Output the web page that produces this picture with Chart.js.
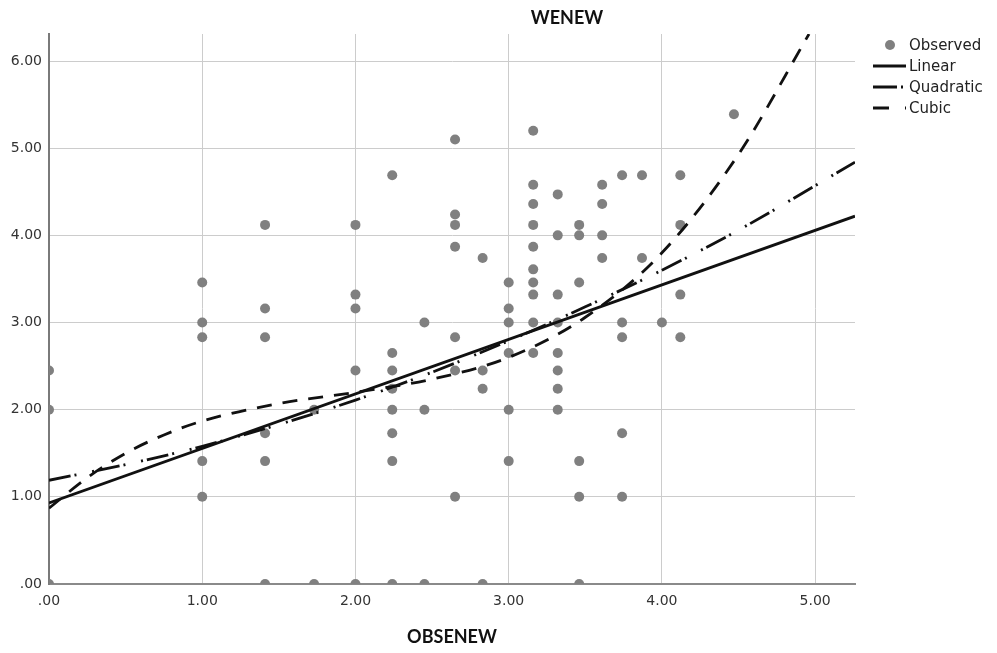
<!DOCTYPE html>
<html lang="en">
<head>
  <meta charset="UTF-8">
  <title>WENEW</title>
  <script src="https://cdn.jsdelivr.net/npm/chart.js"></script>
  <style>
    html, body { margin: 0; padding: 0; background: #fff; }
    #wrap { width: 997px; height: 653px; }
  </style>
</head>
<body>
<div id="wrap"><canvas id="curveChart"></canvas></div>

<script>
// observed points (sqrt scaled values)
const obsX = [
  0, 0, 0,
  1, 1, 1, 1, 1,
  1.41, 1.41, 1.41, 1.41, 1.41, 1.41,
  1.73, 1.73,
  2, 2, 2, 2, 2,
  2.24, 2.24, 2.24, 2.24, 2.24, 2.24, 2.24, 2.24,
  2.45, 2.45, 2.45,
  2.65, 2.65, 2.65, 2.65, 2.65, 2.65, 2.65,
  2.83, 2.83, 2.83, 2.83,
  3, 3, 3, 3, 3, 3,
  3.16, 3.16, 3.16, 3.16, 3.16, 3.16, 3.16, 3.16, 3.16, 3.16,
  3.32, 3.32, 3.32, 3.32, 3.32, 3.32, 3.32, 3.32,
  3.46, 3.46, 3.46, 3.46, 3.46, 3.46,
  3.61, 3.61, 3.61, 3.61,
  3.74, 3.74, 3.74, 3.74, 3.74,
  3.87, 3.87,
  4,
  4.12, 4.12, 4.12, 4.12,
  4.47
];
const obsY = [
  2.45, 2, 0,
  3.46, 3, 2.83, 1.41, 1,
  4.12, 3.16, 2.83, 1.73, 1.41, 0,
  2, 0,
  4.12, 3.32, 3.16, 2.45, 0,
  4.69, 2.65, 2.45, 2.24, 2, 1.73, 1.41, 0,
  3, 2, 0,
  5.1, 4.24, 4.12, 3.87, 2.83, 2.45, 1,
  3.74, 2.45, 2.24, 0,
  3.46, 3.16, 3, 2.65, 2, 1.41,
  5.2, 4.58, 4.36, 4.12, 3.87, 3.61, 3.46, 3.32, 3, 2.65,
  4.47, 4, 3.32, 3, 2.65, 2.45, 2.24, 2,
  4.12, 4, 3.46, 1.41, 1, 0,
  4.58, 4.36, 4, 3.74,
  4.69, 3, 2.83, 1.73, 1,
  4.69, 3.74,
  3,
  4.69, 4.12, 3.32, 2.83,
  5.39
];

// fitted curves, read at a few x positions
const linearX = [0, 5.26];
const linearY = [0.93, 4.22];
const quadX = [0, 0.5, 1, 1.5, 2, 2.5, 3, 3.5, 4, 4.5, 5.26];
const quadY = [1.19, 1.37, 1.58, 1.83, 2.11, 2.43, 2.79, 3.18, 3.6, 4.06, 4.84];
const cubicX = [0, 0.25, 0.5, 0.75, 1, 1.5, 2, 2.5, 3, 3.5, 4, 4.5, 4.96];
const cubicY = [0.87, 1.22, 1.5, 1.71, 1.87, 2.07, 2.2, 2.35, 2.6, 3.06, 3.8, 4.93, 6.31];

const legendLabels = ["Observed", "Linear", "Quadratic", "Cubic"];
const chartTitle = "WENEW";
const xTitle = "OBSENEW";

function pts(xs, ys) {
  return xs.map((x, i) => ({ x: x, y: ys[i] }));
}
function fmt(v) {
  return v === 0 ? ".00" : v.toFixed(2);
}

// title + legend drawn on the canvas
const extras = {
  id: "extras",
  afterDraw(chart) {
    const ctx = chart.ctx;
    ctx.save();
    ctx.fillStyle = "#111";
    ctx.font = "bold 18px Lato";
    ctx.textAlign = "center";
    ctx.textBaseline = "middle";
    ctx.fillText(chartTitle, 567, 18);

    const rows = [45, 66, 87, 108];
    ctx.font = "15px 'DejaVu Sans'";
    ctx.textAlign = "left";
    ctx.fillStyle = "#222";
    legendLabels.forEach((t, i) => ctx.fillText(t, 909, rows[i] + 1));

    ctx.fillStyle = "#808080";
    ctx.beginPath();
    ctx.arc(890, rows[0], 5, 0, Math.PI * 2);
    ctx.fill();

    ctx.strokeStyle = "#111";
    ctx.lineWidth = 2.8;
    const dashes = [[], [24, 4, 2, 100], [16, 16, 2, 100]];
    dashes.forEach((d, i) => {
      ctx.setLineDash(d);
      ctx.beginPath();
      ctx.moveTo(873, rows[i + 1]);
      ctx.lineTo(906, rows[i + 1]);
      ctx.stroke();
    });
    ctx.restore();
  }
};

Chart.defaults.font.family = "'DejaVu Sans'";

new Chart(document.getElementById("curveChart"), {
  type: "scatter",
  data: {
    datasets: [
      {
        label: "Linear",
        data: pts(linearX, linearY),
        showLine: true,
        borderColor: "#111",
        borderWidth: 2.8,
        pointRadius: 0,
        clip: 0,
        order: 0
      },
      {
        label: "Quadratic",
        data: pts(quadX, quadY),
        showLine: true,
        borderColor: "#111",
        borderWidth: 2.8,
        borderDash: [22, 4, 2, 16, 2, 4],
        cubicInterpolationMode: "monotone",
        pointRadius: 0,
        clip: 0,
        order: 1
      },
      {
        label: "Cubic",
        data: pts(cubicX, cubicY),
        showLine: true,
        borderColor: "#111",
        borderWidth: 2.8,
        borderDash: [15, 11],
        cubicInterpolationMode: "monotone",
        pointRadius: 0,
        clip: 0,
        order: 2
      },
      {
        label: "Observed",
        data: pts(obsX, obsY),
        backgroundColor: "#808080",
        borderColor: "#808080",
        borderWidth: 0,
        pointRadius: 5,
        clip: 0,
        order: 10
      }
    ]
  },
  options: {
    responsive: true,
    maintainAspectRatio: false,
    animation: false,
    events: [],
    layout: { padding: { top: 34, right: 142, left: 0, bottom: 0 } },
    plugins: {
      legend: { display: false },
      tooltip: { enabled: false }
    },
    scales: {
      x: {
        type: "linear",
        min: 0,
        max: 5.26,
        afterFit: s => { s.height = 69; },
        grid: { color: "#cccccc", lineWidth: 1, drawTicks: false },
        border: { display: true, color: "#8a8a8a", width: 2 },
        ticks: {
          stepSize: 1,
          includeBounds: false,
          padding: 9,
          color: "#333",
          font: { size: 14 },
          callback: v => fmt(v)
        },
        title: {
          display: true,
          text: xTitle,
          color: "#111",
          font: { family: "Lato", size: 18, weight: "bold" },
          padding: { top: 0, bottom: 5 }
        }
      },
      y: {
        type: "linear",
        min: 0,
        max: 6.31,
        afterFit: s => { s.width = 49; },
        grid: { color: "#cccccc", lineWidth: 1, drawTicks: false },
        border: { display: true, color: "#7a7a7a", width: 2 },
        ticks: {
          stepSize: 1,
          includeBounds: false,
          padding: 7,
          color: "#333",
          font: { size: 14 },
          callback: v => fmt(v)
        }
      }
    }
  },
  plugins: [extras]
});
</script>
</body>
</html>
